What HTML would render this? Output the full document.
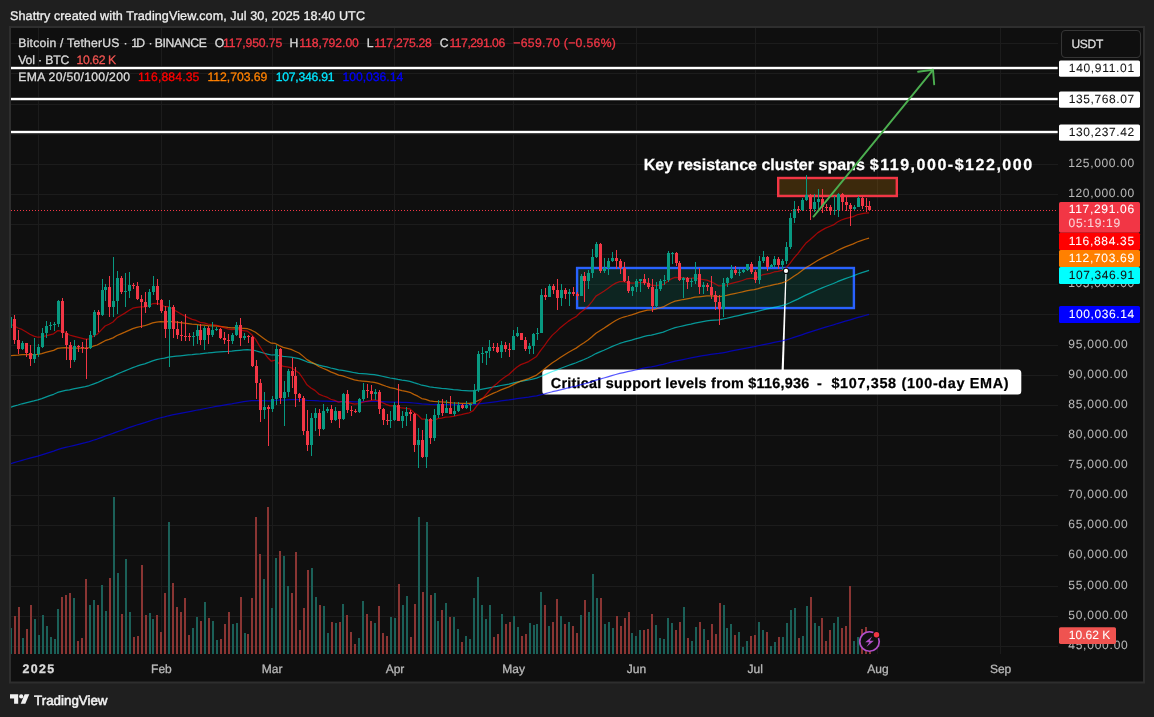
<!DOCTYPE html>
<html lang="en"><head><meta charset="utf-8"><title>BTCUSDT chart</title>
<style>html,body{margin:0;padding:0;background:#1f1f1f;}body{width:1154px;height:717px;overflow:hidden;font-family:"Liberation Sans",Arial,sans-serif;}svg{display:block;}</style>
</head><body>
<svg width="1154" height="717" viewBox="0 0 1154 717" font-family="'Liberation Sans', Arial, sans-serif" text-rendering="geometricPrecision" style="will-change:transform">
<rect width="1154" height="717" fill="#1f1f1f"/>
<rect x="9" y="26" width="1136" height="657.5" fill="#2e2e2e"/>
<rect x="11" y="28" width="1132" height="653.5" fill="#0f0f0f"/>
<defs><clipPath id="c"><rect x="11" y="28" width="1047" height="626"/></clipPath></defs>
<g fill="#1c1c1c" shape-rendering="crispEdges">
<rect x="11" y="646" width="1047" height="1"/>
<rect x="11" y="616" width="1047" height="1"/>
<rect x="11" y="586" width="1047" height="1"/>
<rect x="11" y="555" width="1047" height="1"/>
<rect x="11" y="525" width="1047" height="1"/>
<rect x="11" y="495" width="1047" height="1"/>
<rect x="11" y="465" width="1047" height="1"/>
<rect x="11" y="435" width="1047" height="1"/>
<rect x="11" y="405" width="1047" height="1"/>
<rect x="11" y="375" width="1047" height="1"/>
<rect x="11" y="345" width="1047" height="1"/>
<rect x="11" y="314" width="1047" height="1"/>
<rect x="11" y="284" width="1047" height="1"/>
<rect x="11" y="254" width="1047" height="1"/>
<rect x="11" y="224" width="1047" height="1"/>
<rect x="11" y="194" width="1047" height="1"/>
<rect x="11" y="164" width="1047" height="1"/>
<rect x="11" y="134" width="1047" height="1"/>
<rect x="11" y="104" width="1047" height="1"/>
<rect x="11" y="73" width="1047" height="1"/>
<rect x="11" y="43" width="1047" height="1"/>
<rect x="38" y="28" width="1" height="626"/>
<rect x="161" y="28" width="1" height="626"/>
<rect x="272" y="28" width="1" height="626"/>
<rect x="394" y="28" width="1" height="626"/>
<rect x="513" y="28" width="1" height="626"/>
<rect x="636" y="28" width="1" height="626"/>
<rect x="755" y="28" width="1" height="626"/>
<rect x="877" y="28" width="1" height="626"/>
<rect x="1000" y="28" width="1" height="626"/>
</g>
<g clip-path="url(#c)" shape-rendering="crispEdges">
<rect x="10" y="628.4" width="2" height="25.6" fill="#1b6058"/>
<rect x="14" y="616.0" width="2" height="38.0" fill="#8a3533"/>
<rect x="18" y="607.0" width="2" height="47.0" fill="#8a3533"/>
<rect x="22" y="638.0" width="2" height="16.0" fill="#1b6058"/>
<rect x="26" y="629.0" width="2" height="25.0" fill="#8a3533"/>
<rect x="30" y="605.0" width="2" height="49.0" fill="#8a3533"/>
<rect x="34" y="619.0" width="2" height="35.0" fill="#1b6058"/>
<rect x="38" y="635.0" width="2" height="19.0" fill="#1b6058"/>
<rect x="42" y="615.0" width="2" height="39.0" fill="#1b6058"/>
<rect x="46" y="626.0" width="2" height="28.0" fill="#1b6058"/>
<rect x="50" y="637.0" width="2" height="17.0" fill="#1b6058"/>
<rect x="54" y="639.0" width="2" height="15.0" fill="#1b6058"/>
<rect x="57" y="609.0" width="2" height="45.0" fill="#1b6058"/>
<rect x="61" y="597.0" width="2" height="57.0" fill="#8a3533"/>
<rect x="65" y="594.5" width="2" height="59.5" fill="#8a3533"/>
<rect x="69" y="593.2" width="2" height="60.8" fill="#8a3533"/>
<rect x="73" y="598.0" width="2" height="56.0" fill="#1b6058"/>
<rect x="77" y="641.0" width="2" height="13.0" fill="#8a3533"/>
<rect x="81" y="638.0" width="2" height="16.0" fill="#8a3533"/>
<rect x="85" y="579.4" width="2" height="74.6" fill="#8a3533"/>
<rect x="89" y="605.0" width="2" height="49.0" fill="#1b6058"/>
<rect x="93" y="600.3" width="2" height="53.7" fill="#1b6058"/>
<rect x="97" y="605.0" width="2" height="49.0" fill="#8a3533"/>
<rect x="101" y="585.2" width="2" height="68.8" fill="#1b6058"/>
<rect x="105" y="611.0" width="2" height="43.0" fill="#1b6058"/>
<rect x="109" y="578.2" width="2" height="75.8" fill="#8a3533"/>
<rect x="113" y="497.3" width="2" height="156.7" fill="#1b6058"/>
<rect x="117" y="573.2" width="2" height="80.8" fill="#1b6058"/>
<rect x="121" y="614.0" width="2" height="40.0" fill="#8a3533"/>
<rect x="125" y="559.3" width="2" height="94.7" fill="#1b6058"/>
<rect x="129" y="612.1" width="2" height="41.9" fill="#1b6058"/>
<rect x="133" y="637.2" width="2" height="16.8" fill="#8a3533"/>
<rect x="137" y="636.2" width="2" height="17.8" fill="#8a3533"/>
<rect x="141" y="565.1" width="2" height="88.9" fill="#8a3533"/>
<rect x="145" y="615.3" width="2" height="38.7" fill="#8a3533"/>
<rect x="149" y="613.3" width="2" height="40.7" fill="#1b6058"/>
<rect x="152" y="619.1" width="2" height="34.9" fill="#1b6058"/>
<rect x="156" y="615.3" width="2" height="38.7" fill="#8a3533"/>
<rect x="160" y="632.2" width="2" height="21.8" fill="#8a3533"/>
<rect x="164" y="593.2" width="2" height="60.8" fill="#8a3533"/>
<rect x="168" y="522.4" width="2" height="131.6" fill="#1b6058"/>
<rect x="172" y="583.2" width="2" height="70.8" fill="#8a3533"/>
<rect x="176" y="607.3" width="2" height="46.7" fill="#8a3533"/>
<rect x="180" y="612.1" width="2" height="41.9" fill="#8a3533"/>
<rect x="184" y="598.3" width="2" height="55.7" fill="#8a3533"/>
<rect x="188" y="635.2" width="2" height="18.8" fill="#8a3533"/>
<rect x="192" y="628.4" width="2" height="25.6" fill="#1b6058"/>
<rect x="196" y="617.1" width="2" height="36.9" fill="#1b6058"/>
<rect x="200" y="621.4" width="2" height="32.6" fill="#8a3533"/>
<rect x="204" y="602.3" width="2" height="51.7" fill="#1b6058"/>
<rect x="208" y="618.1" width="2" height="35.9" fill="#8a3533"/>
<rect x="212" y="621.4" width="2" height="32.6" fill="#1b6058"/>
<rect x="216" y="640.2" width="2" height="13.8" fill="#1b6058"/>
<rect x="220" y="639.0" width="2" height="15.0" fill="#8a3533"/>
<rect x="224" y="624.1" width="2" height="29.9" fill="#8a3533"/>
<rect x="228" y="612.1" width="2" height="41.9" fill="#8a3533"/>
<rect x="232" y="624.1" width="2" height="29.9" fill="#1b6058"/>
<rect x="236" y="623.4" width="2" height="30.6" fill="#1b6058"/>
<rect x="240" y="597.0" width="2" height="57.0" fill="#8a3533"/>
<rect x="244" y="633.2" width="2" height="20.8" fill="#1b6058"/>
<rect x="247" y="634.2" width="2" height="19.8" fill="#8a3533"/>
<rect x="251" y="598.3" width="2" height="55.7" fill="#8a3533"/>
<rect x="255" y="517.4" width="2" height="136.6" fill="#8a3533"/>
<rect x="259" y="554.3" width="2" height="99.7" fill="#8a3533"/>
<rect x="263" y="579.4" width="2" height="74.6" fill="#1b6058"/>
<rect x="267" y="507.4" width="2" height="146.6" fill="#8a3533"/>
<rect x="271" y="608.3" width="2" height="45.7" fill="#1b6058"/>
<rect x="275" y="558.3" width="2" height="95.7" fill="#1b6058"/>
<rect x="279" y="550.6" width="2" height="103.4" fill="#8a3533"/>
<rect x="283" y="556.3" width="2" height="97.7" fill="#1b6058"/>
<rect x="287" y="586.2" width="2" height="67.8" fill="#1b6058"/>
<rect x="291" y="593.2" width="2" height="60.8" fill="#8a3533"/>
<rect x="295" y="552.3" width="2" height="101.7" fill="#8a3533"/>
<rect x="299" y="630.1" width="2" height="23.9" fill="#8a3533"/>
<rect x="303" y="608.3" width="2" height="45.7" fill="#8a3533"/>
<rect x="307" y="570.1" width="2" height="83.9" fill="#8a3533"/>
<rect x="311" y="568.4" width="2" height="85.6" fill="#1b6058"/>
<rect x="315" y="597.3" width="2" height="56.7" fill="#1b6058"/>
<rect x="319" y="605.3" width="2" height="48.7" fill="#8a3533"/>
<rect x="323" y="606.3" width="2" height="47.7" fill="#1b6058"/>
<rect x="327" y="633.2" width="2" height="20.8" fill="#1b6058"/>
<rect x="331" y="622.4" width="2" height="31.6" fill="#8a3533"/>
<rect x="335" y="623.4" width="2" height="30.6" fill="#1b6058"/>
<rect x="339" y="622.4" width="2" height="31.6" fill="#8a3533"/>
<rect x="342" y="604.3" width="2" height="49.7" fill="#1b6058"/>
<rect x="346" y="615.3" width="2" height="38.7" fill="#8a3533"/>
<rect x="350" y="632.2" width="2" height="21.8" fill="#8a3533"/>
<rect x="354" y="644.2" width="2" height="9.8" fill="#8a3533"/>
<rect x="358" y="638.2" width="2" height="15.8" fill="#1b6058"/>
<rect x="362" y="601.3" width="2" height="52.7" fill="#1b6058"/>
<rect x="366" y="614.3" width="2" height="39.7" fill="#8a3533"/>
<rect x="370" y="621.4" width="2" height="32.6" fill="#8a3533"/>
<rect x="374" y="623.4" width="2" height="30.6" fill="#1b6058"/>
<rect x="378" y="606.3" width="2" height="47.7" fill="#8a3533"/>
<rect x="382" y="633.2" width="2" height="20.8" fill="#8a3533"/>
<rect x="386" y="636.2" width="2" height="17.8" fill="#8a3533"/>
<rect x="390" y="617.1" width="2" height="36.9" fill="#1b6058"/>
<rect x="394" y="618.1" width="2" height="35.9" fill="#1b6058"/>
<rect x="398" y="584.2" width="2" height="69.8" fill="#8a3533"/>
<rect x="402" y="605.3" width="2" height="48.7" fill="#1b6058"/>
<rect x="406" y="596.3" width="2" height="57.7" fill="#1b6058"/>
<rect x="410" y="637.2" width="2" height="16.8" fill="#8a3533"/>
<rect x="414" y="604.3" width="2" height="49.7" fill="#8a3533"/>
<rect x="418" y="517.4" width="2" height="136.6" fill="#1b6058"/>
<rect x="422" y="592.2" width="2" height="61.8" fill="#8a3533"/>
<rect x="426" y="522.4" width="2" height="131.6" fill="#1b6058"/>
<rect x="430" y="595.3" width="2" height="58.7" fill="#8a3533"/>
<rect x="434" y="593.2" width="2" height="60.8" fill="#1b6058"/>
<rect x="437" y="621.4" width="2" height="32.6" fill="#1b6058"/>
<rect x="441" y="610.3" width="2" height="43.7" fill="#8a3533"/>
<rect x="445" y="603.3" width="2" height="50.7" fill="#1b6058"/>
<rect x="449" y="617.1" width="2" height="36.9" fill="#8a3533"/>
<rect x="453" y="617.1" width="2" height="36.9" fill="#1b6058"/>
<rect x="457" y="629.4" width="2" height="24.6" fill="#1b6058"/>
<rect x="461" y="642.2" width="2" height="11.8" fill="#8a3533"/>
<rect x="465" y="636.2" width="2" height="17.8" fill="#1b6058"/>
<rect x="469" y="639.2" width="2" height="14.8" fill="#1b6058"/>
<rect x="473" y="598.3" width="2" height="55.7" fill="#1b6058"/>
<rect x="477" y="577.4" width="2" height="76.6" fill="#1b6058"/>
<rect x="481" y="605.3" width="2" height="48.7" fill="#1b6058"/>
<rect x="485" y="619.1" width="2" height="34.9" fill="#1b6058"/>
<rect x="489" y="605.3" width="2" height="48.7" fill="#1b6058"/>
<rect x="493" y="637.2" width="2" height="16.8" fill="#8a3533"/>
<rect x="497" y="634.2" width="2" height="19.8" fill="#8a3533"/>
<rect x="501" y="614.3" width="2" height="39.7" fill="#1b6058"/>
<rect x="505" y="624.1" width="2" height="29.9" fill="#8a3533"/>
<rect x="509" y="622.4" width="2" height="31.6" fill="#8a3533"/>
<rect x="513" y="616.1" width="2" height="37.9" fill="#1b6058"/>
<rect x="517" y="627.4" width="2" height="26.6" fill="#1b6058"/>
<rect x="521" y="636.2" width="2" height="17.8" fill="#8a3533"/>
<rect x="525" y="634.2" width="2" height="19.8" fill="#8a3533"/>
<rect x="529" y="623.4" width="2" height="30.6" fill="#1b6058"/>
<rect x="533" y="625.4" width="2" height="28.6" fill="#1b6058"/>
<rect x="536" y="624.1" width="2" height="29.9" fill="#1b6058"/>
<rect x="540" y="592.2" width="2" height="61.8" fill="#1b6058"/>
<rect x="544" y="605.3" width="2" height="48.7" fill="#8a3533"/>
<rect x="548" y="626.4" width="2" height="27.6" fill="#1b6058"/>
<rect x="552" y="622.4" width="2" height="31.6" fill="#8a3533"/>
<rect x="556" y="599.3" width="2" height="54.7" fill="#8a3533"/>
<rect x="560" y="616.1" width="2" height="37.9" fill="#1b6058"/>
<rect x="564" y="624.1" width="2" height="29.9" fill="#8a3533"/>
<rect x="568" y="622.4" width="2" height="31.6" fill="#1b6058"/>
<rect x="572" y="626.4" width="2" height="27.6" fill="#8a3533"/>
<rect x="576" y="633.2" width="2" height="20.8" fill="#8a3533"/>
<rect x="580" y="615.3" width="2" height="38.7" fill="#1b6058"/>
<rect x="584" y="600.3" width="2" height="53.7" fill="#8a3533"/>
<rect x="588" y="612.1" width="2" height="41.9" fill="#1b6058"/>
<rect x="592" y="574.4" width="2" height="79.6" fill="#1b6058"/>
<rect x="596" y="598.3" width="2" height="55.7" fill="#1b6058"/>
<rect x="600" y="598.3" width="2" height="55.7" fill="#8a3533"/>
<rect x="604" y="624.1" width="2" height="29.9" fill="#1b6058"/>
<rect x="608" y="622.4" width="2" height="31.6" fill="#1b6058"/>
<rect x="612" y="628.4" width="2" height="25.6" fill="#1b6058"/>
<rect x="616" y="616.1" width="2" height="37.9" fill="#8a3533"/>
<rect x="620" y="626.4" width="2" height="27.6" fill="#8a3533"/>
<rect x="624" y="618.1" width="2" height="35.9" fill="#8a3533"/>
<rect x="628" y="612.1" width="2" height="41.9" fill="#8a3533"/>
<rect x="631" y="633.2" width="2" height="20.8" fill="#1b6058"/>
<rect x="635" y="636.2" width="2" height="17.8" fill="#1b6058"/>
<rect x="639" y="630.1" width="2" height="23.9" fill="#1b6058"/>
<rect x="643" y="630.1" width="2" height="23.9" fill="#8a3533"/>
<rect x="647" y="629.4" width="2" height="24.6" fill="#8a3533"/>
<rect x="651" y="614.3" width="2" height="39.7" fill="#8a3533"/>
<rect x="655" y="625.4" width="2" height="28.6" fill="#1b6058"/>
<rect x="659" y="638.2" width="2" height="15.8" fill="#1b6058"/>
<rect x="663" y="639.2" width="2" height="14.8" fill="#1b6058"/>
<rect x="667" y="618.1" width="2" height="35.9" fill="#1b6058"/>
<rect x="671" y="623.4" width="2" height="30.6" fill="#1b6058"/>
<rect x="675" y="630.1" width="2" height="23.9" fill="#8a3533"/>
<rect x="679" y="622.4" width="2" height="31.6" fill="#8a3533"/>
<rect x="683" y="607.3" width="2" height="46.7" fill="#1b6058"/>
<rect x="687" y="638.2" width="2" height="15.8" fill="#8a3533"/>
<rect x="691" y="641.2" width="2" height="12.8" fill="#1b6058"/>
<rect x="695" y="627.4" width="2" height="26.6" fill="#1b6058"/>
<rect x="699" y="622.4" width="2" height="31.6" fill="#8a3533"/>
<rect x="703" y="629.4" width="2" height="24.6" fill="#1b6058"/>
<rect x="707" y="640.2" width="2" height="13.8" fill="#8a3533"/>
<rect x="711" y="624.1" width="2" height="29.9" fill="#8a3533"/>
<rect x="715" y="634.2" width="2" height="19.8" fill="#8a3533"/>
<rect x="719" y="603.3" width="2" height="50.7" fill="#8a3533"/>
<rect x="723" y="605.3" width="2" height="48.7" fill="#1b6058"/>
<rect x="726" y="628.4" width="2" height="25.6" fill="#1b6058"/>
<rect x="730" y="624.1" width="2" height="29.9" fill="#1b6058"/>
<rect x="734" y="635.2" width="2" height="18.8" fill="#8a3533"/>
<rect x="738" y="632.2" width="2" height="21.8" fill="#1b6058"/>
<rect x="742" y="647.2" width="2" height="6.8" fill="#1b6058"/>
<rect x="746" y="641.2" width="2" height="12.8" fill="#1b6058"/>
<rect x="750" y="636.2" width="2" height="17.8" fill="#8a3533"/>
<rect x="754" y="635.2" width="2" height="18.8" fill="#8a3533"/>
<rect x="758" y="622.4" width="2" height="31.6" fill="#1b6058"/>
<rect x="762" y="630.1" width="2" height="23.9" fill="#1b6058"/>
<rect x="766" y="632.2" width="2" height="21.8" fill="#8a3533"/>
<rect x="770" y="646.2" width="2" height="7.8" fill="#1b6058"/>
<rect x="774" y="642.2" width="2" height="11.8" fill="#1b6058"/>
<rect x="778" y="637.2" width="2" height="16.8" fill="#8a3533"/>
<rect x="782" y="637.2" width="2" height="16.8" fill="#1b6058"/>
<rect x="786" y="623.4" width="2" height="30.6" fill="#1b6058"/>
<rect x="790" y="610.3" width="2" height="43.7" fill="#1b6058"/>
<rect x="794" y="608.3" width="2" height="45.7" fill="#1b6058"/>
<rect x="798" y="638.2" width="2" height="15.8" fill="#8a3533"/>
<rect x="802" y="636.2" width="2" height="17.8" fill="#1b6058"/>
<rect x="806" y="606.3" width="2" height="47.7" fill="#1b6058"/>
<rect x="810" y="597.3" width="2" height="56.7" fill="#8a3533"/>
<rect x="814" y="623.4" width="2" height="30.6" fill="#1b6058"/>
<rect x="818" y="626.4" width="2" height="27.6" fill="#1b6058"/>
<rect x="821" y="618.1" width="2" height="35.9" fill="#8a3533"/>
<rect x="825" y="641.2" width="2" height="12.8" fill="#8a3533"/>
<rect x="829" y="630.1" width="2" height="23.9" fill="#8a3533"/>
<rect x="833" y="623.4" width="2" height="30.6" fill="#1b6058"/>
<rect x="837" y="617.1" width="2" height="36.9" fill="#1b6058"/>
<rect x="841" y="628.4" width="2" height="25.6" fill="#8a3533"/>
<rect x="845" y="626.4" width="2" height="27.6" fill="#8a3533"/>
<rect x="849" y="586.2" width="2" height="67.8" fill="#8a3533"/>
<rect x="853" y="641.2" width="2" height="12.8" fill="#1b6058"/>
<rect x="857" y="637.2" width="2" height="16.8" fill="#1b6058"/>
<rect x="861" y="629.4" width="2" height="24.6" fill="#8a3533"/>
<rect x="865" y="627.4" width="2" height="26.6" fill="#8a3533"/>
<rect x="869" y="635.2" width="2" height="18.8" fill="#8a3533"/>
</g>
<rect x="577.1" y="268" width="276.8" height="40.05" fill="rgba(8,153,129,0.16)" stroke="#2962ff" stroke-width="2.4"/>
<rect x="778.2" y="178" width="118.6" height="18" fill="rgba(255,152,0,0.19)" stroke="#f23645" stroke-width="2.4"/>
<polygon points="785.5,271 786.6,271 783.8,370 781.6,370" fill="#ffffff"/>
<rect x="542.3" y="369.5" width="479" height="25" rx="3.5" fill="#ffffff"/>
<text x="550.8" y="388" font-size="14.4" font-weight="bold" fill="#000" stroke="#000" stroke-width="0.25" lengthAdjust="spacing" textLength="258.5">Critical support levels from $116,936</text>
<text x="817" y="388" font-size="14.4" font-weight="bold" fill="#000" stroke="#000" stroke-width="0.25" lengthAdjust="spacing">-</text>
<text x="831.4" y="388" font-size="14.4" font-weight="bold" fill="#000" stroke="#000" stroke-width="0.25" lengthAdjust="spacing" textLength="177.2">$107,358 (100-day EMA)</text>
<polyline clip-path="url(#c)" points="10.08,463.83 14.04,462.60 18.00,461.48 21.96,460.30 25.91,459.23 29.87,458.23 33.83,457.20 37.79,456.10 41.75,454.88 45.71,453.60 49.67,452.32 53.62,451.05 57.58,449.56 61.54,448.41 65.50,447.38 69.46,446.51 73.42,445.52 77.38,444.54 81.33,443.58 85.29,442.63 89.25,441.56 93.21,440.27 97.17,439.03 101.13,437.55 105.08,436.05 109.04,434.77 113.00,433.44 116.96,431.90 120.92,430.51 124.88,429.12 128.84,427.69 132.79,426.29 136.75,425.02 140.71,423.80 144.67,422.64 148.63,421.35 152.59,420.01 156.54,418.82 160.50,417.75 164.46,416.86 168.42,415.77 172.38,414.91 176.34,414.12 180.30,413.34 184.25,412.57 188.21,411.81 192.17,411.05 196.13,410.25 200.09,409.55 204.05,408.74 208.01,408.01 211.96,407.24 215.92,406.46 219.88,405.78 223.84,405.13 227.80,404.49 231.76,403.80 235.71,403.01 239.67,402.37 243.63,401.71 247.59,401.07 251.55,400.72 255.51,400.55 259.47,400.64 263.42,400.71 267.38,400.79 271.34,400.77 275.30,400.26 279.26,400.24 283.22,400.16 287.18,399.87 291.13,399.63 295.09,399.58 299.05,399.56 303.01,399.88 306.97,400.33 310.93,400.50 314.88,400.63 318.84,400.91 322.80,401.02 326.76,401.10 330.72,401.29 334.68,401.39 338.64,401.57 342.59,401.50 346.55,401.59 350.51,401.68 354.47,401.79 358.43,401.76 362.39,401.65 366.35,401.54 370.30,401.47 374.26,401.38 378.22,401.45 382.18,401.64 386.14,401.83 390.10,402.02 394.06,402.04 398.01,402.23 401.97,402.36 405.93,402.46 409.89,402.58 413.85,403.00 417.81,403.37 421.76,403.91 425.72,404.06 429.68,404.40 433.64,404.50 437.60,404.49 441.56,404.58 445.52,404.61 449.47,404.70 453.43,404.76 457.39,404.77 461.35,404.81 465.31,404.81 469.27,404.80 473.23,404.65 477.18,404.15 481.14,403.64 485.10,403.12 489.06,402.56 493.02,402.01 496.98,401.52 500.93,400.95 504.89,400.44 508.85,399.94 512.81,399.30 516.77,398.65 520.73,398.06 524.69,397.58 528.64,397.07 532.60,396.44 536.56,395.80 540.52,394.80 544.48,393.83 548.44,392.76 552.40,391.73 556.35,390.80 560.31,389.80 564.27,388.85 568.23,387.88 572.19,386.95 576.15,386.05 580.10,384.95 584.06,383.92 588.02,382.82 591.98,381.57 595.94,380.20 599.90,379.11 603.86,378.01 607.81,376.84 611.77,375.66 615.73,374.51 619.69,373.45 623.65,372.54 627.61,371.73 631.56,370.89 635.52,369.99 639.48,369.09 643.44,368.23 647.40,367.42 651.36,366.81 655.32,366.03 659.27,365.19 663.23,364.34 667.19,363.24 671.15,362.13 675.11,361.14 679.07,360.34 683.03,359.52 686.98,358.76 690.94,357.98 694.90,357.14 698.86,356.45 702.82,355.74 706.78,355.05 710.74,354.45 714.69,353.93 718.65,353.49 722.61,352.78 726.57,352.04 730.53,351.23 734.49,350.45 738.44,349.66 742.40,348.88 746.36,348.03 750.32,347.27 754.28,346.61 758.24,345.76 762.20,344.88 766.15,344.10 770.11,343.31 774.07,342.47 778.03,341.70 781.99,340.90 785.95,339.96 789.91,338.75 793.86,337.46 797.82,336.19 801.78,334.83 805.74,333.44 809.70,332.19 813.66,330.90 817.61,329.59 821.57,328.36 825.53,327.15 829.49,325.99 833.45,324.84 837.41,323.53 841.37,322.32 845.32,321.15 849.28,320.03 853.24,318.90 857.20,317.69 861.16,316.58 865.12,315.48 869.07,314.43" fill="none" stroke="rgba(0,0,255,0.66)" stroke-width="1.25" stroke-linejoin="round"/>
<polyline clip-path="url(#c)" points="10.08,407.44 14.04,406.11 18.00,405.00 21.96,403.77 25.91,402.77 29.87,401.90 33.83,400.95 37.79,399.89 41.75,398.56 45.71,397.13 49.67,395.71 53.62,394.30 57.58,392.46 61.54,391.29 65.50,390.38 69.46,389.78 73.42,388.92 77.38,388.10 81.33,387.30 85.29,386.53 89.25,385.52 93.21,384.06 97.17,382.70 101.13,380.87 105.08,379.02 109.04,377.59 113.00,376.08 116.96,374.14 120.92,372.52 124.88,370.91 128.84,369.22 132.79,367.58 136.75,366.22 140.71,364.96 144.67,363.82 148.63,362.41 152.59,360.90 156.54,359.71 160.50,358.75 164.46,358.16 168.42,357.15 172.38,356.59 176.34,356.17 180.30,355.76 184.25,355.37 188.21,354.99 192.17,354.62 196.13,354.13 200.09,353.86 204.05,353.35 208.01,352.99 211.96,352.54 215.92,352.08 219.88,351.80 223.84,351.57 227.80,351.36 231.76,351.04 235.71,350.52 239.67,350.28 243.63,349.99 247.59,349.74 251.55,350.07 255.51,350.73 259.47,351.91 263.42,353.00 267.38,354.11 271.34,355.00 275.30,354.89 279.26,355.75 283.22,356.46 287.18,356.75 291.13,357.13 295.09,357.87 299.05,358.66 303.01,360.10 306.97,361.78 310.93,362.89 314.88,363.89 318.84,365.18 322.80,366.10 326.76,366.96 330.72,368.01 334.68,368.87 338.64,369.87 342.59,370.35 346.55,371.14 350.51,371.94 354.47,372.74 358.43,373.26 362.39,373.60 366.35,373.95 370.30,374.34 374.26,374.69 378.22,375.38 382.18,376.25 386.14,377.15 390.10,378.00 394.06,378.53 398.01,379.36 401.97,380.09 405.93,380.72 409.89,381.38 413.85,382.65 417.81,383.78 421.76,385.23 425.72,385.90 429.68,386.94 433.64,387.49 437.60,387.81 441.56,388.31 445.52,388.70 449.47,389.20 453.43,389.63 457.39,389.94 461.35,390.31 465.31,390.59 469.27,390.86 473.23,390.84 477.18,390.12 481.14,389.38 485.10,388.62 489.06,387.80 493.02,386.99 496.98,386.31 500.93,385.49 504.89,384.77 508.85,384.09 512.81,383.13 516.77,382.15 520.73,381.31 524.69,380.67 528.64,379.99 532.60,379.08 536.56,378.16 540.52,376.52 544.48,374.94 548.44,373.18 552.40,371.53 556.35,370.08 560.31,368.50 564.27,367.01 568.23,365.53 572.19,364.12 576.15,362.77 580.10,361.05 584.06,359.47 588.02,357.77 591.98,355.76 595.94,353.56 599.90,351.92 603.86,350.26 607.81,348.48 611.77,346.68 615.73,344.98 619.69,343.46 623.65,342.23 627.61,341.21 631.56,340.15 635.52,338.97 639.48,337.79 643.44,336.70 647.40,335.71 651.36,335.12 655.32,334.20 659.27,333.16 663.23,332.10 667.19,330.54 671.15,328.99 675.11,327.68 679.07,326.74 683.03,325.78 686.98,324.92 690.94,324.05 694.90,323.05 698.86,322.34 702.82,321.61 706.78,320.91 710.74,320.40 714.69,320.03 718.65,319.81 722.61,319.07 726.57,318.26 730.53,317.31 734.49,316.43 738.44,315.55 742.40,314.65 746.36,313.66 750.32,312.82 754.28,312.18 758.24,311.17 762.20,310.09 766.15,309.23 770.11,308.36 774.07,307.38 778.03,306.54 781.99,305.63 785.95,304.47 789.91,302.76 793.86,300.90 797.82,299.09 801.78,297.12 805.74,295.09 809.70,293.38 813.66,291.57 817.61,289.73 821.57,288.09 825.53,286.48 829.49,284.97 833.45,283.48 837.41,281.70 841.37,280.12 845.32,278.62 849.28,277.23 853.24,275.83 857.20,274.28 861.16,272.92 865.12,271.60 869.07,270.38" fill="none" stroke="rgba(0,235,235,0.62)" stroke-width="1.25" stroke-linejoin="round"/>
<polyline clip-path="url(#c)" points="10.08,355.86 14.04,355.26 18.00,355.04 21.96,354.58 25.91,354.51 29.87,354.69 33.83,354.65 37.79,354.37 41.75,353.53 45.71,352.46 49.67,351.40 53.62,350.34 57.58,348.42 61.54,347.84 65.50,347.73 69.46,348.22 73.42,348.16 77.38,348.13 81.33,348.11 85.29,348.11 89.25,347.62 93.21,346.22 97.17,345.01 101.13,342.87 105.08,340.69 109.04,339.37 113.00,337.88 116.96,335.53 120.92,333.85 124.88,332.17 128.84,330.34 132.79,328.61 136.75,327.46 140.71,326.49 144.67,325.73 148.63,324.43 152.59,322.93 156.54,322.05 160.50,321.63 164.46,321.92 168.42,321.34 172.38,321.64 176.34,322.18 180.30,322.71 184.25,323.23 188.21,323.74 192.17,324.22 196.13,324.46 200.09,325.09 204.05,325.20 208.01,325.60 211.96,325.77 215.92,325.91 219.88,326.39 223.84,326.93 227.80,327.48 231.76,327.78 235.71,327.68 239.67,328.08 243.63,328.38 247.59,328.74 251.55,330.21 255.51,332.30 259.47,335.36 263.42,338.17 267.38,340.96 271.34,343.23 275.30,343.47 279.26,345.62 283.22,347.43 287.18,348.36 291.13,349.44 295.09,351.20 299.05,353.04 303.01,356.12 306.97,359.60 310.93,361.88 314.88,363.91 318.84,366.46 322.80,368.23 326.76,369.84 330.72,371.82 334.68,373.37 338.64,375.18 342.59,375.92 346.55,377.27 350.51,378.61 354.47,379.94 358.43,380.68 362.39,381.07 366.35,381.46 370.30,381.96 374.26,382.35 378.22,383.41 382.18,384.83 386.14,386.27 390.10,387.59 394.06,388.26 398.01,389.53 401.97,390.58 405.93,391.41 409.89,392.31 413.85,394.39 417.81,396.18 421.76,398.57 425.72,399.38 429.68,400.89 433.64,401.44 437.60,401.54 441.56,401.99 445.52,402.22 449.47,402.67 453.43,403.00 457.39,403.10 461.35,403.31 465.31,403.36 469.27,403.39 473.23,402.87 477.18,400.97 481.14,399.08 485.10,397.20 489.06,395.23 493.02,393.36 496.98,391.75 500.93,389.91 504.89,388.32 508.85,386.83 512.81,384.83 516.77,382.82 520.73,381.13 524.69,379.88 528.64,378.57 532.60,376.82 536.56,375.08 540.52,371.95 544.48,369.02 548.44,365.76 552.40,362.79 556.35,360.26 560.31,357.51 564.27,355.01 568.23,352.55 572.19,350.25 576.15,348.13 580.10,345.30 584.06,342.79 588.02,340.08 591.98,336.81 595.94,333.18 599.90,330.74 603.86,328.28 607.81,325.62 611.77,322.97 615.73,320.53 619.69,318.48 623.65,317.02 627.61,316.00 631.56,314.88 635.52,313.54 639.48,312.21 643.44,311.05 647.40,310.09 651.36,309.94 655.32,309.11 659.27,308.02 663.23,306.93 667.19,304.81 671.15,302.77 675.11,301.19 679.07,300.38 683.03,299.51 686.98,298.84 690.94,298.14 694.90,297.18 698.86,296.80 702.82,296.35 706.78,295.96 710.74,295.92 714.69,296.17 718.65,296.67 722.61,296.12 726.57,295.41 730.53,294.43 734.49,293.58 738.44,292.74 742.40,291.86 746.36,290.78 750.32,290.03 754.28,289.65 758.24,288.54 762.20,287.30 766.15,286.49 770.11,285.65 774.07,284.62 778.03,283.84 781.99,282.94 785.95,281.53 789.91,279.04 793.86,276.29 797.82,273.68 801.78,270.77 805.74,267.80 809.70,265.48 813.66,262.99 817.61,260.48 821.57,258.37 825.53,256.35 829.49,254.55 833.45,252.79 837.41,250.48 841.37,248.57 845.32,246.85 849.28,245.34 853.24,243.82 857.20,242.01 861.16,240.58 865.12,239.24 869.07,238.10" fill="none" stroke="rgba(255,128,0,0.7)" stroke-width="1.25" stroke-linejoin="round"/>
<polyline clip-path="url(#c)" points="10.08,324.18 14.04,325.74 18.00,328.01 21.96,329.46 25.91,331.70 29.87,334.29 33.83,336.15 37.79,337.23 41.75,336.83 45.71,335.80 49.67,334.81 53.62,333.83 57.58,330.74 61.54,331.02 65.50,332.36 69.46,335.00 73.42,336.11 77.38,337.18 81.33,338.19 85.29,339.14 89.25,338.80 93.21,336.24 97.17,334.24 101.13,330.08 105.08,326.00 109.04,324.20 113.00,322.03 116.96,317.82 120.92,315.42 124.88,313.11 128.84,310.47 132.79,308.17 136.75,307.33 140.71,306.88 144.67,306.90 148.63,305.54 152.59,303.71 156.54,303.40 160.50,304.16 164.46,306.53 168.42,306.59 172.38,308.70 176.34,311.25 180.30,313.58 184.25,315.72 188.21,317.68 192.17,319.42 196.13,320.46 200.09,322.37 204.05,322.90 208.01,324.09 211.96,324.66 215.92,325.10 219.88,326.34 223.84,327.66 227.80,328.92 231.76,329.51 235.71,329.10 239.67,329.96 243.63,330.51 247.59,331.18 251.55,334.51 255.51,339.19 259.47,345.94 263.42,351.77 267.38,357.24 271.34,361.22 275.30,360.08 279.26,363.73 283.22,366.40 287.18,366.87 291.13,367.72 295.09,370.26 299.05,372.91 303.01,378.50 306.97,384.81 310.93,387.97 314.88,390.39 318.84,394.08 322.80,395.75 326.76,397.04 330.72,399.26 334.68,400.41 338.64,402.23 342.59,401.46 346.55,402.31 350.51,403.17 354.47,404.06 358.43,403.58 362.39,402.33 366.35,401.26 370.30,400.59 374.26,399.77 378.22,400.67 382.18,402.49 386.14,404.31 390.10,405.81 394.06,405.70 398.01,407.13 401.97,407.99 405.93,408.36 409.89,408.93 413.85,412.40 417.81,415.03 421.76,419.05 425.72,419.06 429.68,420.87 433.64,420.31 437.60,418.73 441.56,418.20 445.52,417.23 449.47,416.90 453.43,416.35 457.39,415.32 461.35,414.65 465.31,413.72 469.27,412.80 473.23,410.65 477.18,405.29 481.14,400.29 485.10,395.60 489.06,390.99 493.02,386.84 496.98,383.57 500.93,379.88 504.89,376.98 508.85,374.43 512.81,370.76 516.77,367.22 520.73,364.62 524.69,363.15 528.64,361.57 532.60,358.93 536.56,356.43 540.52,350.61 544.48,345.51 548.44,339.84 552.40,335.11 556.35,331.60 560.31,327.66 564.27,324.43 568.23,321.37 572.19,318.77 576.15,316.62 580.10,312.75 584.06,309.77 588.02,306.32 591.98,301.60 595.94,296.15 599.90,293.74 603.86,291.30 607.81,288.38 611.77,285.48 615.73,283.14 619.69,281.71 623.65,281.69 627.61,282.58 631.56,283.04 635.52,282.83 639.48,282.52 643.44,282.53 647.40,282.94 651.36,285.15 655.32,285.51 659.27,285.12 663.23,284.65 667.19,281.64 671.15,278.88 675.11,277.34 679.07,277.64 683.03,277.71 686.98,278.15 690.94,278.43 694.90,277.99 698.86,278.89 702.82,279.50 706.78,280.18 710.74,281.59 714.69,283.55 718.65,285.98 722.61,285.66 726.57,284.94 730.53,283.57 734.49,282.55 738.44,281.55 742.40,280.51 746.36,278.96 750.32,278.27 754.28,278.48 758.24,276.85 762.20,274.96 766.15,274.16 770.11,273.31 774.07,271.98 778.03,271.31 781.99,270.32 785.95,268.10 789.91,263.34 793.86,258.17 797.82,253.55 801.78,248.42 805.74,243.34 809.70,240.04 813.66,236.43 817.61,232.87 821.57,230.37 825.53,228.16 829.49,226.48 833.45,224.88 837.41,221.94 841.37,220.01 845.32,218.56 849.28,217.61 853.24,216.56 857.20,214.76 861.16,213.91 865.12,213.18 869.07,212.90" fill="none" stroke="rgba(255,0,0,0.6)" stroke-width="1.25" stroke-linejoin="round"/>
<g clip-path="url(#c)" shape-rendering="crispEdges">
<rect x="10" y="317" width="1" height="12" fill="#089981"/>
<rect x="9" y="317" width="3" height="11" fill="#089981"/>
<rect x="14" y="315" width="1" height="29" fill="#f23645"/>
<rect x="13" y="319" width="3" height="21" fill="#f23645"/>
<rect x="18" y="330" width="1" height="24" fill="#f23645"/>
<rect x="17" y="340" width="3" height="9" fill="#f23645"/>
<rect x="22" y="341" width="1" height="9" fill="#089981"/>
<rect x="21" y="343" width="3" height="6" fill="#089981"/>
<rect x="26" y="343" width="1" height="14" fill="#f23645"/>
<rect x="25" y="343" width="3" height="10" fill="#f23645"/>
<rect x="30" y="345" width="1" height="21" fill="#f23645"/>
<rect x="29" y="353" width="3" height="6" fill="#f23645"/>
<rect x="34" y="338" width="1" height="25" fill="#089981"/>
<rect x="33" y="354" width="3" height="5" fill="#089981"/>
<rect x="38" y="344" width="1" height="13" fill="#089981"/>
<rect x="37" y="347" width="3" height="7" fill="#089981"/>
<rect x="42" y="328" width="1" height="20" fill="#089981"/>
<rect x="41" y="333" width="3" height="14" fill="#089981"/>
<rect x="46" y="321" width="1" height="17" fill="#089981"/>
<rect x="45" y="326" width="3" height="7" fill="#089981"/>
<rect x="50" y="322" width="1" height="8" fill="#089981"/>
<rect x="49" y="325" width="3" height="1" fill="#089981"/>
<rect x="54" y="322" width="1" height="9" fill="#089981"/>
<rect x="53" y="324" width="3" height="1" fill="#089981"/>
<rect x="58" y="300" width="1" height="27" fill="#089981"/>
<rect x="57" y="301" width="3" height="23" fill="#089981"/>
<rect x="62" y="298" width="1" height="40" fill="#f23645"/>
<rect x="61" y="301" width="3" height="32" fill="#f23645"/>
<rect x="66" y="331" width="1" height="29" fill="#f23645"/>
<rect x="65" y="333" width="3" height="12" fill="#f23645"/>
<rect x="70" y="342" width="1" height="26" fill="#f23645"/>
<rect x="69" y="345" width="3" height="15" fill="#f23645"/>
<rect x="74" y="340" width="1" height="22" fill="#089981"/>
<rect x="73" y="346" width="3" height="14" fill="#089981"/>
<rect x="78" y="345" width="1" height="7" fill="#f23645"/>
<rect x="77" y="346" width="3" height="1" fill="#f23645"/>
<rect x="82" y="342" width="1" height="11" fill="#f23645"/>
<rect x="81" y="347" width="3" height="1" fill="#f23645"/>
<rect x="86" y="339" width="1" height="40" fill="#f23645"/>
<rect x="85" y="348" width="3" height="1" fill="#f23645"/>
<rect x="90" y="331" width="1" height="18" fill="#089981"/>
<rect x="89" y="335" width="3" height="13" fill="#089981"/>
<rect x="94" y="310" width="1" height="27" fill="#089981"/>
<rect x="93" y="312" width="3" height="23" fill="#089981"/>
<rect x="98" y="310" width="1" height="22" fill="#f23645"/>
<rect x="97" y="312" width="3" height="3" fill="#f23645"/>
<rect x="102" y="279" width="1" height="37" fill="#089981"/>
<rect x="101" y="290" width="3" height="25" fill="#089981"/>
<rect x="105" y="284" width="1" height="17" fill="#089981"/>
<rect x="104" y="287" width="3" height="3" fill="#089981"/>
<rect x="109" y="276" width="1" height="41" fill="#f23645"/>
<rect x="108" y="287" width="3" height="20" fill="#f23645"/>
<rect x="113" y="257" width="1" height="60" fill="#089981"/>
<rect x="112" y="301" width="3" height="6" fill="#089981"/>
<rect x="117" y="271" width="1" height="43" fill="#089981"/>
<rect x="116" y="278" width="3" height="23" fill="#089981"/>
<rect x="121" y="276" width="1" height="18" fill="#f23645"/>
<rect x="120" y="278" width="3" height="14" fill="#f23645"/>
<rect x="125" y="273" width="1" height="34" fill="#089981"/>
<rect x="124" y="291" width="3" height="1" fill="#089981"/>
<rect x="129" y="272" width="1" height="26" fill="#089981"/>
<rect x="128" y="285" width="3" height="6" fill="#089981"/>
<rect x="133" y="283" width="1" height="6" fill="#f23645"/>
<rect x="132" y="285" width="3" height="1" fill="#f23645"/>
<rect x="137" y="282" width="1" height="18" fill="#f23645"/>
<rect x="136" y="286" width="3" height="13" fill="#f23645"/>
<rect x="141" y="295" width="1" height="33" fill="#f23645"/>
<rect x="140" y="299" width="3" height="3" fill="#f23645"/>
<rect x="145" y="292" width="1" height="21" fill="#f23645"/>
<rect x="144" y="302" width="3" height="5" fill="#f23645"/>
<rect x="149" y="289" width="1" height="19" fill="#089981"/>
<rect x="148" y="292" width="3" height="15" fill="#089981"/>
<rect x="153" y="276" width="1" height="19" fill="#089981"/>
<rect x="152" y="286" width="3" height="6" fill="#089981"/>
<rect x="157" y="279" width="1" height="26" fill="#f23645"/>
<rect x="156" y="286" width="3" height="14" fill="#f23645"/>
<rect x="161" y="299" width="1" height="14" fill="#f23645"/>
<rect x="160" y="300" width="3" height="11" fill="#f23645"/>
<rect x="165" y="306" width="1" height="32" fill="#f23645"/>
<rect x="164" y="311" width="3" height="18" fill="#f23645"/>
<rect x="169" y="300" width="1" height="67" fill="#089981"/>
<rect x="168" y="307" width="3" height="22" fill="#089981"/>
<rect x="173" y="305" width="1" height="33" fill="#f23645"/>
<rect x="172" y="307" width="3" height="22" fill="#f23645"/>
<rect x="177" y="321" width="1" height="18" fill="#f23645"/>
<rect x="176" y="329" width="3" height="6" fill="#f23645"/>
<rect x="181" y="321" width="1" height="20" fill="#f23645"/>
<rect x="180" y="335" width="3" height="1" fill="#f23645"/>
<rect x="185" y="314" width="1" height="27" fill="#f23645"/>
<rect x="184" y="336" width="3" height="1" fill="#f23645"/>
<rect x="189" y="333" width="1" height="8" fill="#f23645"/>
<rect x="188" y="336" width="3" height="1" fill="#f23645"/>
<rect x="193" y="332" width="1" height="14" fill="#089981"/>
<rect x="192" y="336" width="3" height="1" fill="#089981"/>
<rect x="197" y="325" width="1" height="19" fill="#089981"/>
<rect x="196" y="330" width="3" height="6" fill="#089981"/>
<rect x="200" y="324" width="1" height="21" fill="#f23645"/>
<rect x="199" y="330" width="3" height="10" fill="#f23645"/>
<rect x="204" y="326" width="1" height="24" fill="#089981"/>
<rect x="203" y="328" width="3" height="12" fill="#089981"/>
<rect x="208" y="326" width="1" height="18" fill="#f23645"/>
<rect x="207" y="328" width="3" height="7" fill="#f23645"/>
<rect x="212" y="322" width="1" height="15" fill="#089981"/>
<rect x="211" y="330" width="3" height="5" fill="#089981"/>
<rect x="216" y="327" width="1" height="4" fill="#089981"/>
<rect x="215" y="329" width="3" height="1" fill="#089981"/>
<rect x="220" y="328" width="1" height="11" fill="#f23645"/>
<rect x="219" y="329" width="3" height="9" fill="#f23645"/>
<rect x="224" y="332" width="1" height="12" fill="#f23645"/>
<rect x="223" y="338" width="3" height="2" fill="#f23645"/>
<rect x="228" y="334" width="1" height="20" fill="#f23645"/>
<rect x="227" y="340" width="3" height="1" fill="#f23645"/>
<rect x="232" y="333" width="1" height="11" fill="#089981"/>
<rect x="231" y="335" width="3" height="6" fill="#089981"/>
<rect x="236" y="322" width="1" height="14" fill="#089981"/>
<rect x="235" y="325" width="3" height="10" fill="#089981"/>
<rect x="240" y="318" width="1" height="28" fill="#f23645"/>
<rect x="239" y="325" width="3" height="13" fill="#f23645"/>
<rect x="244" y="333" width="1" height="7" fill="#089981"/>
<rect x="243" y="336" width="3" height="2" fill="#089981"/>
<rect x="248" y="335" width="1" height="8" fill="#f23645"/>
<rect x="247" y="336" width="3" height="1" fill="#f23645"/>
<rect x="252" y="336" width="1" height="31" fill="#f23645"/>
<rect x="251" y="337" width="3" height="29" fill="#f23645"/>
<rect x="256" y="360" width="1" height="39" fill="#f23645"/>
<rect x="255" y="366" width="3" height="17" fill="#f23645"/>
<rect x="260" y="379" width="1" height="43" fill="#f23645"/>
<rect x="259" y="383" width="3" height="27" fill="#f23645"/>
<rect x="264" y="392" width="1" height="27" fill="#089981"/>
<rect x="263" y="407" width="3" height="3" fill="#089981"/>
<rect x="268" y="405" width="1" height="41" fill="#f23645"/>
<rect x="267" y="407" width="3" height="2" fill="#f23645"/>
<rect x="272" y="396" width="1" height="16" fill="#089981"/>
<rect x="271" y="399" width="3" height="10" fill="#089981"/>
<rect x="276" y="345" width="1" height="60" fill="#089981"/>
<rect x="275" y="349" width="3" height="50" fill="#089981"/>
<rect x="280" y="348" width="1" height="56" fill="#f23645"/>
<rect x="279" y="349" width="3" height="49" fill="#f23645"/>
<rect x="284" y="381" width="1" height="45" fill="#089981"/>
<rect x="283" y="392" width="3" height="6" fill="#089981"/>
<rect x="288" y="369" width="1" height="28" fill="#089981"/>
<rect x="287" y="371" width="3" height="21" fill="#089981"/>
<rect x="292" y="358" width="1" height="30" fill="#f23645"/>
<rect x="291" y="371" width="3" height="5" fill="#f23645"/>
<rect x="295" y="367" width="1" height="40" fill="#f23645"/>
<rect x="294" y="376" width="3" height="18" fill="#f23645"/>
<rect x="299" y="393" width="1" height="9" fill="#f23645"/>
<rect x="298" y="394" width="3" height="4" fill="#f23645"/>
<rect x="303" y="396" width="1" height="39" fill="#f23645"/>
<rect x="302" y="398" width="3" height="33" fill="#f23645"/>
<rect x="307" y="410" width="1" height="41" fill="#f23645"/>
<rect x="306" y="431" width="3" height="14" fill="#f23645"/>
<rect x="311" y="413" width="1" height="43" fill="#089981"/>
<rect x="310" y="418" width="3" height="27" fill="#089981"/>
<rect x="315" y="408" width="1" height="23" fill="#089981"/>
<rect x="314" y="413" width="3" height="5" fill="#089981"/>
<rect x="319" y="409" width="1" height="27" fill="#f23645"/>
<rect x="318" y="413" width="3" height="16" fill="#f23645"/>
<rect x="323" y="404" width="1" height="26" fill="#089981"/>
<rect x="322" y="411" width="3" height="18" fill="#089981"/>
<rect x="327" y="407" width="1" height="6" fill="#089981"/>
<rect x="326" y="409" width="3" height="2" fill="#089981"/>
<rect x="331" y="405" width="1" height="18" fill="#f23645"/>
<rect x="330" y="409" width="3" height="11" fill="#f23645"/>
<rect x="335" y="407" width="1" height="14" fill="#089981"/>
<rect x="334" y="411" width="3" height="9" fill="#089981"/>
<rect x="339" y="411" width="1" height="17" fill="#f23645"/>
<rect x="338" y="411" width="3" height="8" fill="#f23645"/>
<rect x="343" y="393" width="1" height="27" fill="#089981"/>
<rect x="342" y="394" width="3" height="25" fill="#089981"/>
<rect x="347" y="390" width="1" height="23" fill="#f23645"/>
<rect x="346" y="394" width="3" height="16" fill="#f23645"/>
<rect x="351" y="406" width="1" height="10" fill="#f23645"/>
<rect x="350" y="410" width="3" height="1" fill="#f23645"/>
<rect x="355" y="409" width="1" height="4" fill="#f23645"/>
<rect x="354" y="411" width="3" height="1" fill="#f23645"/>
<rect x="359" y="398" width="1" height="15" fill="#089981"/>
<rect x="358" y="399" width="3" height="13" fill="#089981"/>
<rect x="363" y="383" width="1" height="18" fill="#089981"/>
<rect x="362" y="390" width="3" height="9" fill="#089981"/>
<rect x="367" y="384" width="1" height="14" fill="#f23645"/>
<rect x="366" y="390" width="3" height="1" fill="#f23645"/>
<rect x="371" y="385" width="1" height="15" fill="#f23645"/>
<rect x="370" y="391" width="3" height="3" fill="#f23645"/>
<rect x="375" y="389" width="1" height="11" fill="#089981"/>
<rect x="374" y="392" width="3" height="2" fill="#089981"/>
<rect x="379" y="390" width="1" height="24" fill="#f23645"/>
<rect x="378" y="392" width="3" height="17" fill="#f23645"/>
<rect x="383" y="408" width="1" height="17" fill="#f23645"/>
<rect x="382" y="409" width="3" height="11" fill="#f23645"/>
<rect x="387" y="414" width="1" height="11" fill="#f23645"/>
<rect x="386" y="420" width="3" height="1" fill="#f23645"/>
<rect x="390" y="411" width="1" height="17" fill="#089981"/>
<rect x="389" y="420" width="3" height="1" fill="#089981"/>
<rect x="394" y="402" width="1" height="19" fill="#089981"/>
<rect x="393" y="405" width="3" height="15" fill="#089981"/>
<rect x="398" y="384" width="1" height="37" fill="#f23645"/>
<rect x="397" y="405" width="3" height="16" fill="#f23645"/>
<rect x="402" y="411" width="1" height="17" fill="#089981"/>
<rect x="401" y="416" width="3" height="5" fill="#089981"/>
<rect x="406" y="407" width="1" height="19" fill="#089981"/>
<rect x="405" y="412" width="3" height="4" fill="#089981"/>
<rect x="410" y="410" width="1" height="11" fill="#f23645"/>
<rect x="409" y="412" width="3" height="2" fill="#f23645"/>
<rect x="414" y="413" width="1" height="39" fill="#f23645"/>
<rect x="413" y="414" width="3" height="31" fill="#f23645"/>
<rect x="418" y="428" width="1" height="40" fill="#089981"/>
<rect x="417" y="440" width="3" height="5" fill="#089981"/>
<rect x="422" y="430" width="1" height="28" fill="#f23645"/>
<rect x="421" y="440" width="3" height="17" fill="#f23645"/>
<rect x="426" y="414" width="1" height="54" fill="#089981"/>
<rect x="425" y="419" width="3" height="38" fill="#089981"/>
<rect x="430" y="418" width="1" height="26" fill="#f23645"/>
<rect x="429" y="419" width="3" height="19" fill="#f23645"/>
<rect x="434" y="409" width="1" height="32" fill="#089981"/>
<rect x="433" y="415" width="3" height="23" fill="#089981"/>
<rect x="438" y="400" width="1" height="18" fill="#089981"/>
<rect x="437" y="404" width="3" height="11" fill="#089981"/>
<rect x="442" y="399" width="1" height="17" fill="#f23645"/>
<rect x="441" y="404" width="3" height="9" fill="#f23645"/>
<rect x="446" y="400" width="1" height="13" fill="#089981"/>
<rect x="445" y="408" width="3" height="5" fill="#089981"/>
<rect x="450" y="396" width="1" height="18" fill="#f23645"/>
<rect x="449" y="408" width="3" height="6" fill="#f23645"/>
<rect x="454" y="402" width="1" height="14" fill="#089981"/>
<rect x="453" y="411" width="3" height="3" fill="#089981"/>
<rect x="458" y="402" width="1" height="10" fill="#089981"/>
<rect x="457" y="405" width="3" height="6" fill="#089981"/>
<rect x="462" y="404" width="1" height="5" fill="#f23645"/>
<rect x="461" y="405" width="3" height="3" fill="#f23645"/>
<rect x="466" y="401" width="1" height="8" fill="#089981"/>
<rect x="465" y="405" width="3" height="3" fill="#089981"/>
<rect x="470" y="403" width="1" height="8" fill="#089981"/>
<rect x="469" y="404" width="3" height="1" fill="#089981"/>
<rect x="474" y="384" width="1" height="20" fill="#089981"/>
<rect x="473" y="390" width="3" height="14" fill="#089981"/>
<rect x="478" y="351" width="1" height="41" fill="#089981"/>
<rect x="477" y="354" width="3" height="36" fill="#089981"/>
<rect x="482" y="347" width="1" height="16" fill="#089981"/>
<rect x="481" y="353" width="3" height="1" fill="#089981"/>
<rect x="486" y="351" width="1" height="14" fill="#089981"/>
<rect x="485" y="351" width="3" height="2" fill="#089981"/>
<rect x="489" y="340" width="1" height="18" fill="#089981"/>
<rect x="488" y="347" width="3" height="4" fill="#089981"/>
<rect x="493" y="343" width="1" height="8" fill="#f23645"/>
<rect x="492" y="347" width="3" height="1" fill="#f23645"/>
<rect x="497" y="343" width="1" height="10" fill="#f23645"/>
<rect x="496" y="347" width="3" height="5" fill="#f23645"/>
<rect x="501" y="341" width="1" height="17" fill="#089981"/>
<rect x="500" y="345" width="3" height="7" fill="#089981"/>
<rect x="505" y="342" width="1" height="10" fill="#f23645"/>
<rect x="504" y="345" width="3" height="4" fill="#f23645"/>
<rect x="509" y="343" width="1" height="14" fill="#f23645"/>
<rect x="508" y="349" width="3" height="1" fill="#f23645"/>
<rect x="513" y="330" width="1" height="20" fill="#089981"/>
<rect x="512" y="336" width="3" height="14" fill="#089981"/>
<rect x="517" y="327" width="1" height="10" fill="#089981"/>
<rect x="516" y="333" width="3" height="3" fill="#089981"/>
<rect x="521" y="333" width="1" height="7" fill="#f23645"/>
<rect x="520" y="333" width="3" height="7" fill="#f23645"/>
<rect x="525" y="337" width="1" height="14" fill="#f23645"/>
<rect x="524" y="340" width="3" height="9" fill="#f23645"/>
<rect x="529" y="343" width="1" height="11" fill="#089981"/>
<rect x="528" y="346" width="3" height="3" fill="#089981"/>
<rect x="533" y="333" width="1" height="21" fill="#089981"/>
<rect x="532" y="334" width="3" height="12" fill="#089981"/>
<rect x="537" y="328" width="1" height="12" fill="#089981"/>
<rect x="536" y="333" width="3" height="1" fill="#089981"/>
<rect x="541" y="289" width="1" height="44" fill="#089981"/>
<rect x="540" y="295" width="3" height="38" fill="#089981"/>
<rect x="545" y="288" width="1" height="12" fill="#f23645"/>
<rect x="544" y="295" width="3" height="2" fill="#f23645"/>
<rect x="549" y="284" width="1" height="13" fill="#089981"/>
<rect x="548" y="286" width="3" height="11" fill="#089981"/>
<rect x="553" y="284" width="1" height="10" fill="#f23645"/>
<rect x="552" y="286" width="3" height="4" fill="#f23645"/>
<rect x="557" y="279" width="1" height="31" fill="#f23645"/>
<rect x="556" y="290" width="3" height="8" fill="#f23645"/>
<rect x="561" y="284" width="1" height="22" fill="#089981"/>
<rect x="560" y="290" width="3" height="8" fill="#089981"/>
<rect x="565" y="288" width="1" height="11" fill="#f23645"/>
<rect x="564" y="290" width="3" height="4" fill="#f23645"/>
<rect x="569" y="289" width="1" height="17" fill="#089981"/>
<rect x="568" y="292" width="3" height="2" fill="#089981"/>
<rect x="573" y="287" width="1" height="9" fill="#f23645"/>
<rect x="572" y="292" width="3" height="2" fill="#f23645"/>
<rect x="577" y="292" width="1" height="8" fill="#f23645"/>
<rect x="576" y="294" width="3" height="2" fill="#f23645"/>
<rect x="581" y="274" width="1" height="22" fill="#089981"/>
<rect x="580" y="276" width="3" height="20" fill="#089981"/>
<rect x="584" y="272" width="1" height="30" fill="#f23645"/>
<rect x="583" y="276" width="3" height="5" fill="#f23645"/>
<rect x="588" y="270" width="1" height="19" fill="#089981"/>
<rect x="587" y="273" width="3" height="8" fill="#089981"/>
<rect x="592" y="249" width="1" height="29" fill="#089981"/>
<rect x="591" y="257" width="3" height="16" fill="#089981"/>
<rect x="596" y="242" width="1" height="16" fill="#089981"/>
<rect x="595" y="244" width="3" height="13" fill="#089981"/>
<rect x="600" y="243" width="1" height="30" fill="#f23645"/>
<rect x="599" y="244" width="3" height="27" fill="#f23645"/>
<rect x="604" y="258" width="1" height="15" fill="#089981"/>
<rect x="603" y="268" width="3" height="3" fill="#089981"/>
<rect x="608" y="258" width="1" height="17" fill="#089981"/>
<rect x="607" y="261" width="3" height="7" fill="#089981"/>
<rect x="612" y="252" width="1" height="10" fill="#089981"/>
<rect x="611" y="258" width="3" height="3" fill="#089981"/>
<rect x="616" y="250" width="1" height="19" fill="#f23645"/>
<rect x="615" y="258" width="3" height="3" fill="#f23645"/>
<rect x="620" y="259" width="1" height="15" fill="#f23645"/>
<rect x="619" y="261" width="3" height="7" fill="#f23645"/>
<rect x="624" y="262" width="1" height="20" fill="#f23645"/>
<rect x="623" y="268" width="3" height="13" fill="#f23645"/>
<rect x="628" y="276" width="1" height="17" fill="#f23645"/>
<rect x="627" y="281" width="3" height="10" fill="#f23645"/>
<rect x="632" y="286" width="1" height="10" fill="#089981"/>
<rect x="631" y="287" width="3" height="4" fill="#089981"/>
<rect x="636" y="279" width="1" height="13" fill="#089981"/>
<rect x="635" y="281" width="3" height="6" fill="#089981"/>
<rect x="640" y="279" width="1" height="13" fill="#089981"/>
<rect x="639" y="279" width="3" height="2" fill="#089981"/>
<rect x="644" y="274" width="1" height="11" fill="#f23645"/>
<rect x="643" y="279" width="3" height="4" fill="#f23645"/>
<rect x="648" y="278" width="1" height="11" fill="#f23645"/>
<rect x="647" y="283" width="3" height="4" fill="#f23645"/>
<rect x="652" y="279" width="1" height="33" fill="#f23645"/>
<rect x="651" y="287" width="3" height="19" fill="#f23645"/>
<rect x="656" y="282" width="1" height="26" fill="#089981"/>
<rect x="655" y="289" width="3" height="17" fill="#089981"/>
<rect x="660" y="279" width="1" height="12" fill="#089981"/>
<rect x="659" y="281" width="3" height="8" fill="#089981"/>
<rect x="664" y="275" width="1" height="10" fill="#089981"/>
<rect x="663" y="280" width="3" height="1" fill="#089981"/>
<rect x="668" y="251" width="1" height="31" fill="#089981"/>
<rect x="667" y="253" width="3" height="27" fill="#089981"/>
<rect x="672" y="252" width="1" height="12" fill="#089981"/>
<rect x="671" y="253" width="3" height="1" fill="#089981"/>
<rect x="676" y="252" width="1" height="14" fill="#f23645"/>
<rect x="675" y="253" width="3" height="10" fill="#f23645"/>
<rect x="679" y="261" width="1" height="20" fill="#f23645"/>
<rect x="678" y="263" width="3" height="17" fill="#f23645"/>
<rect x="683" y="277" width="1" height="21" fill="#089981"/>
<rect x="682" y="278" width="3" height="2" fill="#089981"/>
<rect x="687" y="277" width="1" height="12" fill="#f23645"/>
<rect x="686" y="278" width="3" height="4" fill="#f23645"/>
<rect x="691" y="278" width="1" height="9" fill="#089981"/>
<rect x="690" y="281" width="3" height="1" fill="#089981"/>
<rect x="695" y="262" width="1" height="22" fill="#089981"/>
<rect x="694" y="274" width="3" height="7" fill="#089981"/>
<rect x="699" y="268" width="1" height="26" fill="#f23645"/>
<rect x="698" y="274" width="3" height="13" fill="#f23645"/>
<rect x="703" y="282" width="1" height="12" fill="#089981"/>
<rect x="702" y="285" width="3" height="2" fill="#089981"/>
<rect x="707" y="283" width="1" height="8" fill="#f23645"/>
<rect x="706" y="285" width="3" height="2" fill="#f23645"/>
<rect x="711" y="276" width="1" height="23" fill="#f23645"/>
<rect x="710" y="287" width="3" height="8" fill="#f23645"/>
<rect x="715" y="291" width="1" height="19" fill="#f23645"/>
<rect x="714" y="295" width="3" height="7" fill="#f23645"/>
<rect x="719" y="295" width="1" height="30" fill="#f23645"/>
<rect x="718" y="302" width="3" height="7" fill="#f23645"/>
<rect x="723" y="278" width="1" height="39" fill="#089981"/>
<rect x="722" y="283" width="3" height="26" fill="#089981"/>
<rect x="727" y="277" width="1" height="10" fill="#089981"/>
<rect x="726" y="278" width="3" height="5" fill="#089981"/>
<rect x="731" y="265" width="1" height="14" fill="#089981"/>
<rect x="730" y="270" width="3" height="8" fill="#089981"/>
<rect x="735" y="266" width="1" height="9" fill="#f23645"/>
<rect x="734" y="270" width="3" height="3" fill="#f23645"/>
<rect x="739" y="269" width="1" height="7" fill="#089981"/>
<rect x="738" y="272" width="3" height="1" fill="#089981"/>
<rect x="743" y="269" width="1" height="4" fill="#089981"/>
<rect x="742" y="270" width="3" height="2" fill="#089981"/>
<rect x="747" y="264" width="1" height="7" fill="#089981"/>
<rect x="746" y="264" width="3" height="6" fill="#089981"/>
<rect x="751" y="262" width="1" height="12" fill="#f23645"/>
<rect x="750" y="264" width="3" height="8" fill="#f23645"/>
<rect x="755" y="270" width="1" height="13" fill="#f23645"/>
<rect x="754" y="272" width="3" height="8" fill="#f23645"/>
<rect x="759" y="256" width="1" height="28" fill="#089981"/>
<rect x="758" y="261" width="3" height="19" fill="#089981"/>
<rect x="763" y="251" width="1" height="12" fill="#089981"/>
<rect x="762" y="257" width="3" height="4" fill="#089981"/>
<rect x="767" y="256" width="1" height="15" fill="#f23645"/>
<rect x="766" y="257" width="3" height="10" fill="#f23645"/>
<rect x="771" y="264" width="1" height="4" fill="#089981"/>
<rect x="770" y="265" width="3" height="2" fill="#089981"/>
<rect x="774" y="256" width="1" height="11" fill="#089981"/>
<rect x="773" y="259" width="3" height="6" fill="#089981"/>
<rect x="778" y="257" width="1" height="12" fill="#f23645"/>
<rect x="777" y="259" width="3" height="6" fill="#f23645"/>
<rect x="782" y="259" width="1" height="11" fill="#089981"/>
<rect x="781" y="261" width="3" height="4" fill="#089981"/>
<rect x="786" y="242" width="1" height="22" fill="#089981"/>
<rect x="785" y="247" width="3" height="14" fill="#089981"/>
<rect x="790" y="213" width="1" height="36" fill="#089981"/>
<rect x="789" y="218" width="3" height="29" fill="#089981"/>
<rect x="794" y="201" width="1" height="22" fill="#089981"/>
<rect x="793" y="209" width="3" height="9" fill="#089981"/>
<rect x="798" y="206" width="1" height="7" fill="#f23645"/>
<rect x="797" y="209" width="3" height="1" fill="#f23645"/>
<rect x="802" y="198" width="1" height="13" fill="#089981"/>
<rect x="801" y="200" width="3" height="10" fill="#089981"/>
<rect x="806" y="175" width="1" height="26" fill="#089981"/>
<rect x="805" y="195" width="3" height="5" fill="#089981"/>
<rect x="810" y="194" width="1" height="26" fill="#f23645"/>
<rect x="809" y="195" width="3" height="14" fill="#f23645"/>
<rect x="814" y="194" width="1" height="18" fill="#089981"/>
<rect x="813" y="202" width="3" height="7" fill="#089981"/>
<rect x="818" y="189" width="1" height="20" fill="#089981"/>
<rect x="817" y="199" width="3" height="3" fill="#089981"/>
<rect x="822" y="189" width="1" height="24" fill="#f23645"/>
<rect x="821" y="199" width="3" height="8" fill="#f23645"/>
<rect x="826" y="204" width="1" height="7" fill="#f23645"/>
<rect x="825" y="207" width="3" height="1" fill="#f23645"/>
<rect x="830" y="205" width="1" height="10" fill="#f23645"/>
<rect x="829" y="207" width="3" height="4" fill="#f23645"/>
<rect x="834" y="196" width="1" height="19" fill="#089981"/>
<rect x="833" y="210" width="3" height="1" fill="#089981"/>
<rect x="838" y="193" width="1" height="24" fill="#089981"/>
<rect x="837" y="194" width="3" height="16" fill="#089981"/>
<rect x="842" y="193" width="1" height="17" fill="#f23645"/>
<rect x="841" y="194" width="3" height="8" fill="#f23645"/>
<rect x="846" y="197" width="1" height="14" fill="#f23645"/>
<rect x="845" y="202" width="3" height="3" fill="#f23645"/>
<rect x="850" y="203" width="1" height="23" fill="#f23645"/>
<rect x="849" y="205" width="3" height="4" fill="#f23645"/>
<rect x="854" y="205" width="1" height="6" fill="#089981"/>
<rect x="853" y="207" width="3" height="2" fill="#089981"/>
<rect x="858" y="196" width="1" height="11" fill="#089981"/>
<rect x="857" y="198" width="3" height="9" fill="#089981"/>
<rect x="862" y="196" width="1" height="13" fill="#f23645"/>
<rect x="861" y="198" width="3" height="8" fill="#f23645"/>
<rect x="866" y="198" width="1" height="14" fill="#f23645"/>
<rect x="865" y="206" width="3" height="1" fill="#f23645"/>
<rect x="869" y="201" width="1" height="9" fill="#f23645"/>
<rect x="868" y="206" width="3" height="4" fill="#f23645"/>
</g>
<circle cx="786" cy="270.9" r="3.15" fill="#0c0c0c"/><circle cx="786" cy="270.9" r="2.1" fill="#ffffff"/>
<line x1="11" y1="210.5" x2="1058" y2="210.5" stroke="#f23645" stroke-width="1" stroke-dasharray="1 2" shape-rendering="crispEdges"/>
<rect x="11" y="65.92" width="1047" height="4.2" fill="#000000" opacity="0.85"/>
<rect x="11" y="66.77" width="1046.7" height="2.5" fill="#ffffff"/>
<rect x="11" y="96.92" width="1047" height="4.2" fill="#000000" opacity="0.85"/>
<rect x="11" y="97.77" width="1046.7" height="2.5" fill="#ffffff"/>
<rect x="11" y="129.92" width="1047" height="4.2" fill="#000000" opacity="0.85"/>
<rect x="11" y="130.77" width="1046.7" height="2.5" fill="#ffffff"/>
<text x="643.8" y="169.7" font-size="16" font-weight="bold" fill="#ffffff" stroke="#ffffff" stroke-width="0.25" lengthAdjust="spacing" textLength="221">Key resistance cluster spans</text>
<text x="869.8" y="169.7" font-size="16" font-weight="bold" fill="#ffffff" stroke="#ffffff" stroke-width="0.25" lengthAdjust="spacing" textLength="162.3">$119,000-$122,000</text>
<g stroke="#4caf50" stroke-width="1.9" fill="none" stroke-linecap="round">
<line x1="813.5" y1="216.6" x2="933" y2="69.8"/>
<polyline points="918.1,71.8 933,69.8 934.2,84.3" stroke-linejoin="round"/>
</g>
<text x="18.3" y="46.6" font-size="12.2" fill="#dbdbdb" stroke="#dbdbdb" stroke-width="0.3" textLength="101.2" lengthAdjust="spacing">Bitcoin / TetherUS</text>
<text x="123.6" y="46.6" font-size="12.2" fill="#dbdbdb" stroke="#dbdbdb" stroke-width="0.3">·</text>
<text x="131.2" y="46.6" font-size="12.2" fill="#dbdbdb" stroke="#dbdbdb" stroke-width="0.3" textLength="13.8" lengthAdjust="spacing">1D</text>
<text x="148.6" y="46.6" font-size="12.2" fill="#dbdbdb" stroke="#dbdbdb" stroke-width="0.3">·</text>
<text x="154.8" y="46.6" font-size="12.2" fill="#dbdbdb" stroke="#dbdbdb" stroke-width="0.3" textLength="52.1" lengthAdjust="spacing">BINANCE</text>
<text x="214.7" y="46.6" font-size="12.2" fill="#dbdbdb" stroke="#dbdbdb" stroke-width="0.3">O</text>
<text x="223.0" y="46.6" font-size="12.2" fill="#f23645" stroke="#f23645" stroke-width="0.3" textLength="59.3" lengthAdjust="spacing">117,950.75</text>
<text x="289.4" y="46.6" font-size="12.2" fill="#dbdbdb" stroke="#dbdbdb" stroke-width="0.3">H</text>
<text x="299.3" y="46.6" font-size="12.2" fill="#f23645" stroke="#f23645" stroke-width="0.3" textLength="59.6" lengthAdjust="spacing">118,792.00</text>
<text x="366.7" y="46.6" font-size="12.2" fill="#dbdbdb" stroke="#dbdbdb" stroke-width="0.3">L</text>
<text x="374.2" y="46.6" font-size="12.2" fill="#f23645" stroke="#f23645" stroke-width="0.3" textLength="57.7" lengthAdjust="spacing">117,275.28</text>
<text x="439.7" y="46.6" font-size="12.2" fill="#dbdbdb" stroke="#dbdbdb" stroke-width="0.3">C</text>
<text x="449.4" y="46.6" font-size="12.2" fill="#f23645" stroke="#f23645" stroke-width="0.3" textLength="55.8" lengthAdjust="spacing">117,291.06</text>
<text x="513.3" y="46.6" font-size="12.2" fill="#f23645" stroke="#f23645" stroke-width="0.3" textLength="102.6" lengthAdjust="spacing">−659.70 (−0.56%)</text>
<text x="18.3" y="64.0" font-size="12.2" fill="#dbdbdb" stroke="#dbdbdb" stroke-width="0.3" textLength="51.0" lengthAdjust="spacing">Vol · BTC</text>
<text x="76.6" y="64.0" font-size="12.2" fill="#ef5350" stroke="#ef5350" stroke-width="0.3" textLength="39.6" lengthAdjust="spacing">10.62 K</text>
<text x="18.3" y="80.8" font-size="12.2" fill="#dbdbdb" stroke="#dbdbdb" stroke-width="0.3" textLength="111.7" lengthAdjust="spacing">EMA 20/50/100/200</text>
<text x="138.1" y="80.8" font-size="12.2" fill="#ff0000" stroke="#ff0000" stroke-width="0.3" textLength="61.3" lengthAdjust="spacing">116,884.35</text>
<text x="207.4" y="80.8" font-size="12.2" fill="#ff8000" stroke="#ff8000" stroke-width="0.3" textLength="59.9" lengthAdjust="spacing">112,703.69</text>
<text x="275.7" y="80.8" font-size="12.2" fill="#00e5ff" stroke="#00e5ff" stroke-width="0.3" textLength="58.9" lengthAdjust="spacing">107,346.91</text>
<text x="342.4" y="80.8" font-size="12.2" fill="#0000ff" stroke="#0000ff" stroke-width="0.3" textLength="60.8" lengthAdjust="spacing">100,036.14</text>
<text x="10.0" y="19.9" font-size="12.6" fill="#f0f0f0" stroke="#f0f0f0" stroke-width="0.3" textLength="355.0" lengthAdjust="spacing">Shattry created with TradingView.com, Jul 30, 2025 18:40 UTC</text>
<g fill="#f0f0f0"><path d="M10 694.3h8.2v9.5h-4.1v-5.4H10z"/><circle cx="21.2" cy="696.4" r="2.1"/><path d="M24.6 694.3h4.7l-4 9.5h-4.6z"/></g>
<text x="34.1" y="705.0" font-size="13.4" fill="#f0f0f0" stroke="#f0f0f0" stroke-width="0.55" textLength="73.4" lengthAdjust="spacing">TradingView</text>
<text x="38.3" y="672.9" font-size="12.4" fill="#dbdbdb" stroke="#dbdbdb" stroke-width="0.3" text-anchor="middle" textLength="31.5" lengthAdjust="spacing" font-weight="bold">2025</text>
<text x="161.4" y="672.8" font-size="12" fill="#b8b8b8" stroke="#b8b8b8" stroke-width="0.3" text-anchor="middle">Feb</text>
<text x="272.2" y="672.8" font-size="12" fill="#b8b8b8" stroke="#b8b8b8" stroke-width="0.3" text-anchor="middle">Mar</text>
<text x="395.0" y="672.8" font-size="12" fill="#b8b8b8" stroke="#b8b8b8" stroke-width="0.3" text-anchor="middle">Apr</text>
<text x="513.7" y="672.8" font-size="12" fill="#b8b8b8" stroke="#b8b8b8" stroke-width="0.3" text-anchor="middle">May</text>
<text x="636.4" y="672.8" font-size="12" fill="#b8b8b8" stroke="#b8b8b8" stroke-width="0.3" text-anchor="middle">Jun</text>
<text x="755.2" y="672.8" font-size="12" fill="#b8b8b8" stroke="#b8b8b8" stroke-width="0.3" text-anchor="middle">Jul</text>
<text x="877.9" y="672.8" font-size="12" fill="#b8b8b8" stroke="#b8b8b8" stroke-width="0.3" text-anchor="middle">Aug</text>
<text x="1000.6" y="672.8" font-size="12" fill="#b8b8b8" stroke="#b8b8b8" stroke-width="0.3" text-anchor="middle">Sep</text>
<text x="1068.2" y="648.8" font-size="12" fill="#b8b8b8" stroke="#b8b8b8" stroke-width="0.05" textLength="59.6" lengthAdjust="spacing">45,000.00</text>
<text x="1068.2" y="618.6" font-size="12" fill="#b8b8b8" stroke="#b8b8b8" stroke-width="0.05" textLength="59.6" lengthAdjust="spacing">50,000.00</text>
<text x="1068.2" y="588.5" font-size="12" fill="#b8b8b8" stroke="#b8b8b8" stroke-width="0.05" textLength="59.6" lengthAdjust="spacing">55,000.00</text>
<text x="1068.2" y="558.4" font-size="12" fill="#b8b8b8" stroke="#b8b8b8" stroke-width="0.05" textLength="59.6" lengthAdjust="spacing">60,000.00</text>
<text x="1068.2" y="528.3" font-size="12" fill="#b8b8b8" stroke="#b8b8b8" stroke-width="0.05" textLength="59.6" lengthAdjust="spacing">65,000.00</text>
<text x="1068.2" y="498.1" font-size="12" fill="#b8b8b8" stroke="#b8b8b8" stroke-width="0.05" textLength="59.6" lengthAdjust="spacing">70,000.00</text>
<text x="1068.2" y="468.0" font-size="12" fill="#b8b8b8" stroke="#b8b8b8" stroke-width="0.05" textLength="59.6" lengthAdjust="spacing">75,000.00</text>
<text x="1068.2" y="437.9" font-size="12" fill="#b8b8b8" stroke="#b8b8b8" stroke-width="0.05" textLength="59.6" lengthAdjust="spacing">80,000.00</text>
<text x="1068.2" y="407.7" font-size="12" fill="#b8b8b8" stroke="#b8b8b8" stroke-width="0.05" textLength="59.6" lengthAdjust="spacing">85,000.00</text>
<text x="1068.2" y="377.6" font-size="12" fill="#b8b8b8" stroke="#b8b8b8" stroke-width="0.05" textLength="59.6" lengthAdjust="spacing">90,000.00</text>
<text x="1068.2" y="347.5" font-size="12" fill="#b8b8b8" stroke="#b8b8b8" stroke-width="0.05" textLength="59.6" lengthAdjust="spacing">95,000.00</text>
<text x="1068.2" y="317.4" font-size="12" fill="#b8b8b8" stroke="#b8b8b8" stroke-width="0.05" textLength="66.0" lengthAdjust="spacing">100,000.00</text>
<text x="1068.2" y="287.2" font-size="12" fill="#b8b8b8" stroke="#b8b8b8" stroke-width="0.05" textLength="66.0" lengthAdjust="spacing">105,000.00</text>
<text x="1068.2" y="196.8" font-size="12" fill="#b8b8b8" stroke="#b8b8b8" stroke-width="0.05" textLength="66.0" lengthAdjust="spacing">120,000.00</text>
<text x="1068.2" y="166.7" font-size="12" fill="#b8b8b8" stroke="#b8b8b8" stroke-width="0.05" textLength="66.0" lengthAdjust="spacing">125,000.00</text>
<rect x="1061.5" y="30.5" width="79" height="27" rx="4" fill="#0f0f0f" stroke="#353535" stroke-width="1.1"/>
<text x="1071.4" y="48.0" font-size="12" fill="#dbdbdb" stroke="#dbdbdb" stroke-width="0.3" textLength="32.0" lengthAdjust="spacing">USDT</text>
<rect x="1059" y="60.4" width="81" height="16.4" rx="1.6" fill="#ffffff"/>
<text x="1068.8" y="72.1" font-size="12" fill="#131313" stroke="#131313" stroke-width="0.06" textLength="65.3" lengthAdjust="spacing">140,911.01</text>
<rect x="1059" y="91.4" width="81" height="16.4" rx="1.6" fill="#ffffff"/>
<text x="1068.8" y="103.1" font-size="12" fill="#131313" stroke="#131313" stroke-width="0.06" textLength="65.3" lengthAdjust="spacing">135,768.07</text>
<rect x="1059" y="124.4" width="81" height="16.4" rx="1.6" fill="#ffffff"/>
<text x="1068.8" y="136.1" font-size="12" fill="#131313" stroke="#131313" stroke-width="0.06" textLength="65.3" lengthAdjust="spacing">130,237.42</text>
<rect x="1059" y="202.1" width="81" height="30.6" rx="1.6" fill="#f23645"/>
<text x="1068.8" y="213.4" font-size="12" fill="#ffffff" stroke="#ffffff" stroke-width="0.06" textLength="65.3" lengthAdjust="spacing">117,291.06</text>
<text x="1068.6" y="227.2" font-size="12" fill="rgba(255,255,255,0.75)" stroke="rgba(255,255,255,0.75)" stroke-width="0.1" textLength="51.5" lengthAdjust="spacing">05:19:19</text>
<rect x="1059" y="232.7" width="81" height="17.3" rx="1.6" fill="#ff0000"/>
<text x="1068.8" y="244.8" font-size="12" fill="#ffffff" stroke="#ffffff" stroke-width="0.06" textLength="65.3" lengthAdjust="spacing">116,884.35</text>
<rect x="1059" y="250.0" width="81" height="17.0" rx="1.6" fill="#ff8000"/>
<text x="1068.8" y="262.0" font-size="12" fill="#ffffff" stroke="#ffffff" stroke-width="0.06" textLength="65.3" lengthAdjust="spacing">112,703.69</text>
<rect x="1059" y="267.0" width="81" height="17.0" rx="1.6" fill="#00ffff"/>
<text x="1068.8" y="279.0" font-size="12" fill="#131313" stroke="#131313" stroke-width="0.06" textLength="65.3" lengthAdjust="spacing">107,346.91</text>
<rect x="1059" y="306.0" width="81" height="17.0" rx="1.6" fill="#0000ff"/>
<text x="1068.8" y="318.0" font-size="12" fill="#ffffff" stroke="#ffffff" stroke-width="0.06" textLength="65.3" lengthAdjust="spacing">100,036.14</text>
<rect x="1059" y="627.2" width="57" height="16.7" rx="1.6" fill="#ef5350"/>
<text x="1068.8" y="639.0" font-size="12" fill="#ffffff" stroke="#ffffff" stroke-width="0.06">10.62 K</text>
<circle cx="869.5" cy="641.5" r="9.75" fill="#0f0f0f" stroke="#b24fc9" stroke-width="1.7"/>
<path d="M872.1 636.4L865.2 642.2h4.2L866.4 646.9 873.9 640.8h-4.1z" fill="#b24fc9"/>
<circle cx="876.5" cy="634.7" r="3.7" fill="#0f0f0f"/><circle cx="876.5" cy="634.7" r="2.7" fill="#f23645"/>
</svg>
</body></html>
